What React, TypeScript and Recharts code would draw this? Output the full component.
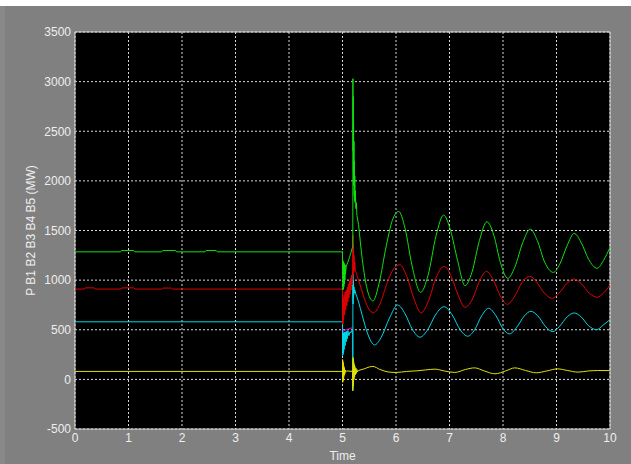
import { CartesianGrid, Line, LineChart, ReferenceArea, XAxis, YAxis } from "recharts";

type Pt = [number, number]; // [time (s), power (MW)]

const X_TICKS = [0, 1, 2, 3, 4, 5, 6, 7, 8, 9, 10];
const Y_TICKS = [-500, 0, 500, 1000, 1500, 2000, 2500, 3000, 3500];

// steady state + fault transient, drawn straight
const GREEN_FAULT: Pt[] = [
  [0, 1285], [0.85, 1285], [0.87, 1298], [1.1, 1298], [1.12, 1285], [1.62, 1285], [1.64, 1298],
  [1.88, 1298], [1.9, 1285], [2.43, 1285], [2.45, 1298], [2.64, 1298], [2.66, 1285], [4.99, 1285],
  [5.0, 1290], [5.0, 1100], [5.004, 1200], [5.008, 900], [5.012, 1190], [5.016, 910], [5.02, 1180],
  [5.025, 930], [5.03, 1170], [5.035, 960], [5.04, 1160], [5.045, 1000], [5.05, 1150], [5.055, 1060],
  [5.07, 1140], [5.1, 1180], [5.13, 1230], [5.16, 1280], [5.185, 1330], [5.193, 1330], [5.195, 3030],
  [5.198, 2300], [5.201, 2850], [5.204, 2100], [5.207, 2600], [5.21, 1950], [5.214, 2400],
  [5.218, 1850], [5.222, 2200], [5.226, 1800], [5.23, 2050], [5.235, 1780], [5.24, 1900],
  [5.25, 1720], [5.26, 1780], [5.27, 1650], [5.3, 1560],
];
// post-fault power swing, drawn smooth
const GREEN_SWING: Pt[] = [
  [5.3, 1560], [5.37, 1210], [5.46, 910], [5.57, 790], [5.68, 960], [5.82, 1350], [5.93, 1600],
  [6.05, 1692], [6.17, 1520], [6.3, 1145], [6.46, 877], [6.6, 1050], [6.75, 1450], [6.89, 1655],
  [7.02, 1500], [7.15, 1200], [7.29, 944], [7.42, 1080], [7.56, 1400], [7.7, 1588], [7.83, 1450],
  [7.95, 1180], [8.09, 1018], [8.22, 1130], [8.37, 1380], [8.51, 1514], [8.64, 1400], [8.78, 1180],
  [8.94, 1078], [9.06, 1160], [9.2, 1350], [9.33, 1471], [9.46, 1380], [9.6, 1210], [9.76, 1119],
  [9.88, 1200], [10, 1330],
];

const RED_FAULT: Pt[] = [
  [0, 910], [0.17, 910], [0.19, 922], [0.36, 922], [0.38, 910], [0.86, 910], [0.88, 922], [1.1, 922],
  [1.12, 910], [1.62, 910], [1.64, 920], [1.8, 920], [1.82, 910], [4.99, 910], [5.0, 910], [5.0, 560],
  [5.005, 800], [5.01, 560], [5.015, 820], [5.02, 600], [5.03, 850], [5.04, 650], [5.05, 880],
  [5.06, 700], [5.07, 900], [5.08, 740], [5.09, 930], [5.1, 780], [5.11, 960], [5.12, 820],
  [5.13, 990], [5.14, 860], [5.15, 1020], [5.16, 900], [5.17, 1050], [5.18, 950], [5.19, 1080],
  [5.195, 1450], [5.2, 1050], [5.205, 1350], [5.21, 1080], [5.215, 1250], [5.22, 1100], [5.23, 1180],
  [5.24, 1100], [5.25, 1080],
];
const RED_SWING: Pt[] = [
  [5.25, 1080], [5.3, 1000], [5.38, 860], [5.48, 720], [5.58, 670], [5.7, 760], [5.84, 980],
  [5.95, 1110], [6.07, 1155], [6.2, 1040], [6.33, 820], [6.47, 670], [6.6, 780], [6.76, 1040],
  [6.9, 1139], [7.03, 1040], [7.16, 850], [7.29, 726], [7.42, 800], [7.56, 990], [7.69, 1088],
  [7.82, 1000], [7.95, 840], [8.08, 757], [8.21, 830], [8.36, 980], [8.5, 1038], [8.63, 980],
  [8.77, 870], [8.92, 817], [9.05, 870], [9.2, 970], [9.33, 1011], [9.47, 960], [9.61, 870],
  [9.76, 827], [9.88, 870], [10, 951],
];

const CYAN_FAULT: Pt[] = [
  [0, 580], [4.99, 580], [5.0, 580], [5.0, 240], [5.005, 460], [5.01, 250], [5.015, 470], [5.02, 270],
  [5.025, 470], [5.03, 300], [5.04, 475], [5.05, 340], [5.06, 480], [5.07, 380], [5.08, 485],
  [5.09, 410], [5.1, 490], [5.12, 440], [5.14, 480], [5.16, 470], [5.18, 495], [5.191, 500],
  [5.193, -110], [5.195, 1080], [5.198, 760], [5.201, 1000], [5.204, 820], [5.207, 960], [5.21, 850],
  [5.215, 930], [5.22, 870], [5.23, 900], [5.25, 860],
];
const CYAN_SWING: Pt[] = [
  [5.25, 860], [5.3, 780], [5.37, 643], [5.46, 476], [5.6, 347], [5.72, 420], [5.88, 620],
  [6.03, 749], [6.17, 660], [6.3, 510], [6.45, 425], [6.58, 490], [6.75, 660], [6.9, 732],
  [7.05, 650], [7.2, 500], [7.34, 435], [7.47, 500], [7.6, 640], [7.73, 716], [7.87, 640], [8.0, 510],
  [8.12, 458], [8.25, 520], [8.4, 640], [8.52, 686], [8.65, 640], [8.8, 530], [8.93, 481],
  [9.05, 530], [9.2, 630], [9.33, 669], [9.46, 630], [9.6, 540], [9.75, 501], [9.88, 550], [10, 602],
];

// only shows where the fault pulls it off the cyan trace
const MAGENTA_FAULT: Pt[] = [
  [5.0, 580], [5.005, 480], [5.02, 485], [5.05, 495], [5.1, 505], [5.15, 515], [5.19, 520],
];

const YELLOW_FAULT: Pt[] = [
  [0, 80], [4.99, 80], [5.0, 80], [5.0, 200], [5.003, -30], [5.006, 190], [5.009, -20], [5.012, 170],
  [5.015, 0], [5.019, 150], [5.023, 20], [5.027, 130], [5.032, 40], [5.037, 115], [5.043, 55],
  [5.05, 95], [5.06, 75], [5.08, 85], [5.19, 80], [5.193, -115], [5.196, 220], [5.199, -70],
  [5.202, 200], [5.206, -30], [5.21, 175], [5.215, 0], [5.22, 150], [5.226, 25], [5.232, 130],
  [5.24, 45], [5.25, 115], [5.26, 60], [5.27, 100], [5.28, 75], [5.3, 90],
];
const YELLOW_SWING: Pt[] = [
  [5.3, 90], [5.4, 105], [5.5, 125], [5.57, 130], [5.7, 100], [5.85, 75], [6.0, 70], [6.2, 80],
  [6.39, 86], [6.55, 95], [6.73, 103], [6.9, 85], [7.1, 70], [7.3, 100], [7.47, 116], [7.65, 85],
  [7.85, 56], [8.05, 85], [8.22, 116], [8.42, 90], [8.62, 66], [8.82, 85], [9.02, 106], [9.2, 90],
  [9.4, 73], [9.6, 85], [9.77, 89], [10, 89],
];

const GREEN = "#10e010";
const RED = "#e00000";
const CYAN = "#00d8e8";
const YELLOW = "#e0e000";
const MAGENTA = "#ff00ff";

const FONT = "'Liberation Sans', Arial, sans-serif";
const TEXT = "#eeeeee";

const rows = (pts: Pt[]) => pts.map(([t, v]) => ({ t, v }));

const series: { key: string; pts: Pt[]; color: string; smooth: boolean }[] = [
  { key: "m-f", pts: MAGENTA_FAULT, color: MAGENTA, smooth: false },
  { key: "c-f", pts: CYAN_FAULT, color: CYAN, smooth: false },
  { key: "c-s", pts: CYAN_SWING, color: CYAN, smooth: true },
  { key: "y-f", pts: YELLOW_FAULT, color: YELLOW, smooth: false },
  { key: "y-s", pts: YELLOW_SWING, color: YELLOW, smooth: true },
  { key: "r-f", pts: RED_FAULT, color: RED, smooth: false },
  { key: "r-s", pts: RED_SWING, color: RED, smooth: true },
  { key: "g-f", pts: GREEN_FAULT, color: GREEN, smooth: false },
  { key: "g-s", pts: GREEN_SWING, color: GREEN, smooth: true },
];

export default function App() {
  return (
    <div style={{ position: "relative", width: 631, height: 464, background: "#888888", fontFamily: FONT }}>
      <style>{"body{margin:0}"}</style>
      <div style={{ position: "absolute", left: 0, top: 0, width: 631, height: 6, background: "#ffffff" }} />
      <div style={{ position: "absolute", left: 5, top: 6, width: 626, height: 458, background: "#808080" }} />
      <div style={{ position: "absolute", left: 0, top: 0 }}>
        <LineChart width={631} height={464} margin={{ top: 32, right: 21, bottom: 0, left: 0 }}>
          <CartesianGrid fill="#000000" fillOpacity={1} stroke="#d8d8d8" strokeDasharray="2 2" />
          <XAxis
            dataKey="t"
            type="number"
            domain={[0, 10]}
            ticks={X_TICKS}
            allowDataOverflow
            height={35}
            axisLine={false}
            tickLine={false}
            tickSize={0}
            tickMargin={4}
            tick={{ fill: TEXT, fontSize: 12, fontFamily: FONT }}
            label={{ value: "Time", position: "insideBottom", offset: 4, fill: TEXT, fontSize: 12, fontFamily: FONT }}
          />
          <YAxis
            type="number"
            domain={[-500, 3500]}
            ticks={Y_TICKS}
            allowDataOverflow
            width={75}
            axisLine={false}
            tickLine={false}
            tickSize={0}
            tickMargin={4}
            tick={{ fill: TEXT, fontSize: 12, fontFamily: FONT }}
            label={{
              value: "P B1 B2 B3 B4 B5 (MW)",
              angle: -90,
              position: "insideLeft",
              offset: 31,
              fill: TEXT,
              fontSize: 12,
              fontFamily: FONT,
              style: { textAnchor: "middle" },
            }}
          />
          {series.map((s) => (
            <Line
              key={s.key}
              data={rows(s.pts)}
              dataKey="v"
              type={s.smooth ? "monotone" : "linear"}
              stroke={s.color}
              strokeWidth={1}
              dot={false}
              activeDot={false}
              isAnimationActive={false}
            />
          ))}
          <ReferenceArea x1={0} x2={10} y1={-500} y2={3500} fill="none" fillOpacity={0} stroke="#d0d0d0" strokeWidth={1} />
        </LineChart>
      </div>
    </div>
  );
}
